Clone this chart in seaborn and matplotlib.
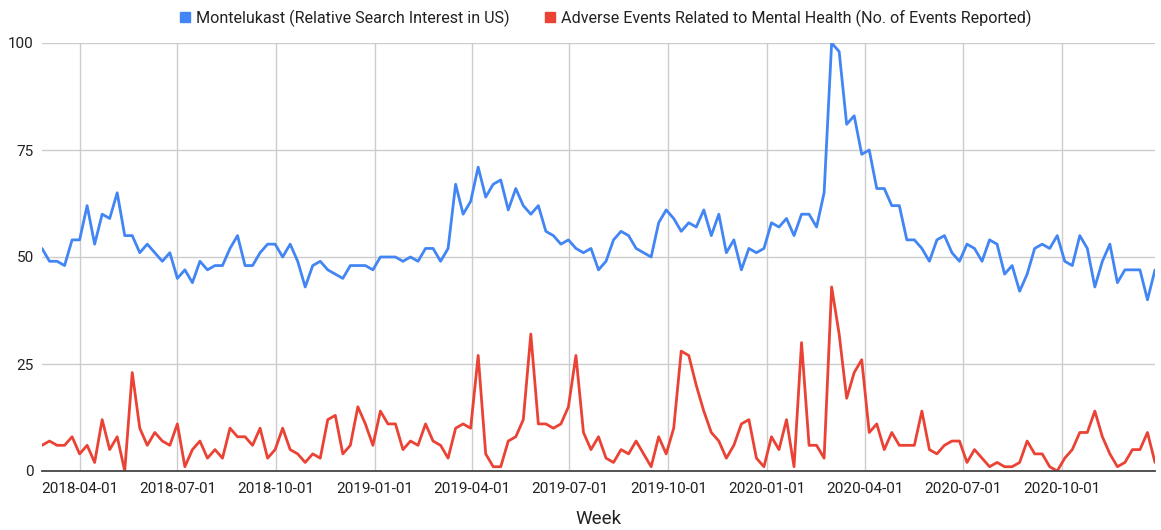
import pandas as pd
import numpy as np
import matplotlib
matplotlib.use('Agg')
import matplotlib.pyplot as plt
import matplotlib.dates as mdates
from matplotlib.patches import Patch
import seaborn as sns

# weekly data, Sundays from 2018-02-25
start_date = '2018-02-25'
n_weeks = 149

search_interest = [
    52, 49, 49, 48, 54, 54, 62, 53, 60, 59, 65, 55, 55, 51, 53, 51, 49, 51, 45,
    47, 44, 49, 47, 48, 48,
    52, 55, 48, 48, 51, 53, 53, 50, 53, 49, 43, 48, 49, 47, 46, 45, 48, 48, 48, 47,
    50, 50, 50, 49, 50, 49, 52, 52, 49, 52,
    67, 60, 63, 71, 64, 67, 68, 61, 66, 62, 60, 62, 56, 55, 53, 54, 52, 51, 52, 47,
    49, 54, 56, 55, 52, 51, 50, 58, 61, 59, 56, 58, 57, 61, 55, 60, 51, 54, 47, 52,
    51, 52, 58, 57, 59,
    55, 60, 60, 57, 65, 100, 98, 81, 83, 74, 75, 66, 66, 62, 62, 54, 54, 52, 49, 54,
    55, 51, 49, 53,
    52, 49, 54, 53, 46, 48, 42, 46, 52, 53, 52, 55, 49, 48, 55, 52, 43, 49, 53, 44,
    47, 47, 47, 40, 47,
]

adverse_events = [
    6, 7, 6, 6, 8, 4, 6, 2, 12, 5, 8, 0, 23, 10, 6, 9, 7, 6, 11, 1, 5, 7, 3, 5, 3, 10,
    8, 8, 6, 10, 3, 5, 10, 5, 4, 2, 4, 3, 12, 13, 4, 6, 15, 11, 6, 14, 11, 11, 5, 7,
    6, 11, 7, 6, 3, 10, 11, 10, 27, 4, 1, 1, 7, 8, 12, 32, 11, 11, 10, 11, 15, 27, 9, 5, 8,
    3, 2, 5, 4, 7, 4, 1, 8, 4, 10, 28, 27, 20, 14, 9, 7, 3, 6, 11, 12, 3, 1, 8, 5, 12,
    1, 30, 6, 6, 3, 43, 32, 17, 23, 26, 9, 11, 5, 9, 6, 6, 6, 14, 5, 4, 6, 7, 7, 2,
    5, 3, 1, 2, 1, 1, 2, 7, 4, 4, 1, 0, 3, 5, 9, 9, 14, 8, 4, 1, 2, 5, 5, 9, 2,
]

series_names = [
    'Montelukast (Relative Search Interest in US)',
    'Adverse Events Related to Mental Health (No. of Events Reported)',
]
series_colors = ['#4285F4', '#EA4335']
y_ticks = [0, 25, 50, 75, 100]

weeks = pd.date_range(start_date, periods=n_weeks, freq='7D')
df = pd.DataFrame({
    'Week': np.concatenate([weeks, weeks]),
    'value': search_interest + adverse_events,
    'series': [series_names[0]] * n_weeks + [series_names[1]] * n_weeks,
})

sns.set_style('white')
plt.rcParams['font.family'] = ['Roboto', 'DejaVu Sans']

fig = plt.figure(figsize=(11.61, 5.30), dpi=100)
ax = fig.add_axes([42 / 1161, 1 - 471 / 530, (1155 - 42) / 1161, (471 - 43) / 530])

sns.lineplot(data=df, x='Week', y='value', hue='series', palette=series_colors,
             hue_order=series_names, linewidth=2.0, ax=ax, legend=False)

ax.set_xlim(weeks[0], weeks[-1])
ax.set_ylim(0, 100)
ax.set_yticks(y_ticks)
ax.xaxis.set_major_locator(mdates.MonthLocator(bymonth=[1, 4, 7, 10], bymonthday=1))
ax.xaxis.set_major_formatter(mdates.DateFormatter('%Y-%m-%d'))

ax.grid(True, color='#cccccc', linewidth=1.0)
ax.set_axisbelow(True)
for side in ['top', 'right', 'left']:
    ax.spines[side].set_visible(False)
ax.spines['bottom'].set_color('#444444')
ax.spines['bottom'].set_linewidth(1.3)
ax.tick_params(axis='both', length=0, labelsize=11, colors='#222222')
ax.tick_params(axis='x', pad=8)
ax.tick_params(axis='y', pad=6)

ax.set_ylabel('')
ax.set_xlabel('Week', fontsize=13.5, color='#222222', labelpad=10)

handles = [Patch(color=c) for c in series_colors]
fig.legend(handles, series_names, loc='center', bbox_to_anchor=(0.522, 0.966),
           ncol=2, frameon=False, fontsize=11.6, handlelength=0.6, handleheight=0.6,
           handletextpad=0.4, columnspacing=2.2, labelcolor='#222222')

fig.savefig('out.png', dpi=100)
